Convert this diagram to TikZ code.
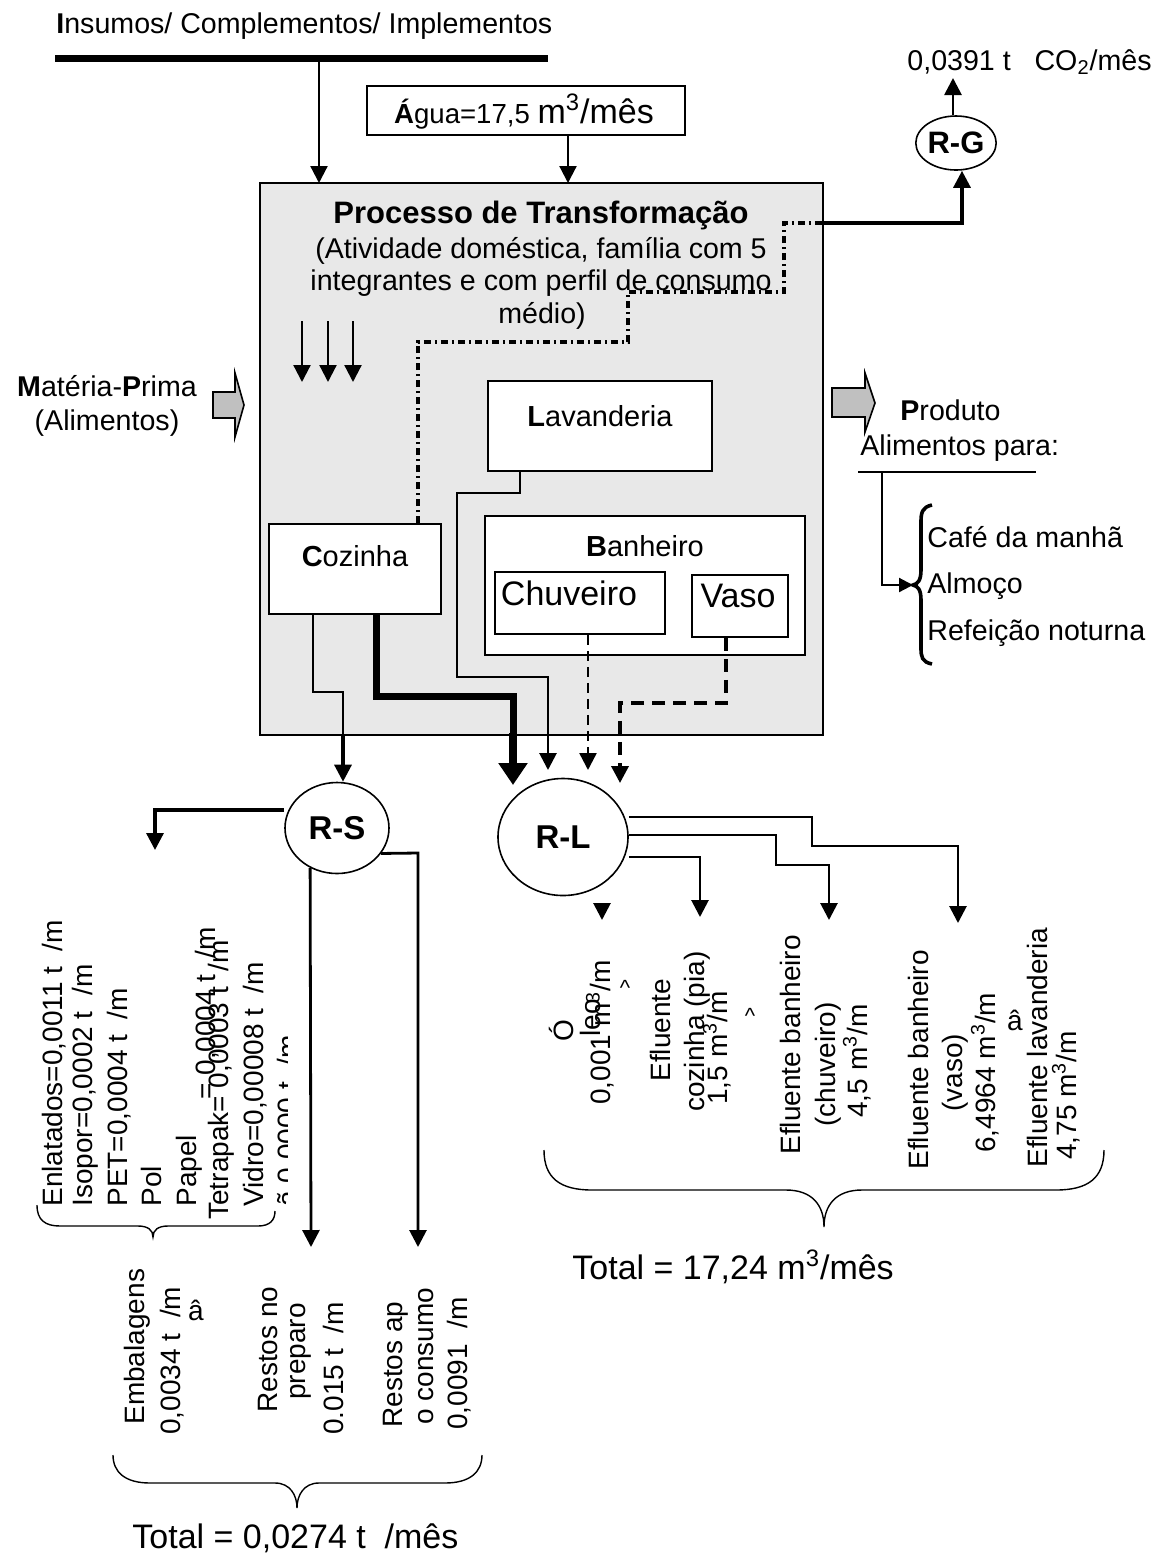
\documentclass[tikz,border=0pt]{standalone}
\usepackage{fontspec}
\setmainfont{Liberation Sans}
\usetikzlibrary{arrows.meta,shapes.geometric}
\newcommand\fsz[1]{\fontsize{#1pt}{#1pt}\selectfont}
\definecolor{procfill}{HTML}{E8E8E8}
\definecolor{arrfill}{HTML}{C0C0C0}
\begin{document}
\begin{tikzpicture}[x=0.5pt,y=-0.5pt,
  tx/.style={inner sep=0pt,anchor=base,font=\fsz{14.3}},
  txw/.style={inner sep=0pt,anchor=base west,font=\fsz{14.3}},
  rt/.style={inner sep=0pt,rotate=90,anchor=base west,font=\fsz{14}},
  bx/.style={draw,line width=0.8pt,fill=white,inner sep=0pt},
  lab/.style={inner sep=0pt,font=\fsz{14.5}},
  arw/.style={-{Triangle[width=8.5pt,length=8.5pt]}},
  lnA/.style={line width=1.1pt},
  lnB/.style={line width=1.4pt},
  ddot/.style={line width=1.6pt,dash pattern=on 3.5pt off 2pt on 1pt off 2pt},
  dshA/.style={line width=1.2pt,dash pattern=on 5pt off 3pt},
  dshB/.style={line width=1.8pt,dash pattern=on 6.5pt off 4pt},
  brc/.style={line width=0.7pt},
  garrow/.style={draw,line width=0.8pt,fill=arrfill},
  line join=miter]
\useasboundingbox (0,0) rectangle (1155,1555);

% ---------- top inputs
\node[txw] (ins) at (56,33) {\textbf{I}nsumos/ Complementos/ Implementos};
\coordinate (insL) at (55,58);
\coordinate (insR) at (548,58);
\draw[line width=3.5pt] (insL) -- (insR);

\node[draw,line width=0.8pt,fill=procfill,minimum width=281.5pt,minimum height=276pt,inner sep=0pt] (proc) at (541.5,459) {};

\coordinate (inT) at (319,183);
\draw[lnA,arw] (insL -| inT) -- (inT);

\node[bx,minimum width=159pt,minimum height=24.5pt] (agua) at (526,110.5) {};
\node[inner sep=0pt,anchor=base] (aguat) at (524,123) {\fsz{13.8}\textbf{Á}gua=17,5 {\fsz{17}m\textsuperscript{3}/mês}};
\coordinate (agT) at (568,183);
\draw[lnA,arw] (agua.south -| agT) -- (agT);

% ---------- process texts
\node[inner sep=0pt,anchor=base,font=\fsz{15.5}\bfseries] (ttl) at (541,223) {Processo de Transformação};
\node[tx] (sub1) at (541,258) {(Atividade doméstica, família com 5};
\node[tx] (sub2) at (541,290) {integrantes e com perfil de consumo};
\node[tx] (sub3) at (542,323) {médio)};

% three small arrows
\coordinate (a1s) at (302,321); \coordinate (a1e) at (302,382);
\coordinate (a2s) at (328,321); \coordinate (a2e) at (328,382);
\coordinate (a3s) at (353,321); \coordinate (a3e) at (353,382);
\draw[lnA,arw] (a1s) -- (a1e);
\draw[lnA,arw] (a2s) -- (a2e);
\draw[lnA,arw] (a3s) -- (a3e);

% ---------- inner boxes
\node[bx,minimum width=112pt,minimum height=45pt] (lav) at (600,426) {};
\node[lab] (lavt) at (600,416) {\textbf{L}avanderia};
\node[bx,minimum width=86pt,minimum height=45pt] (coz) at (355,569) {};
\node[lab] (cozt) at (355,556) {\textbf{C}ozinha};
\node[bx,minimum width=160pt,minimum height=69.5pt] (ban) at (645,585.5) {};
\node[lab] (bant) at (645,546) {\textbf{B}anheiro};
\node[bx,minimum width=85pt,minimum height=31pt] (chu) at (580,603) {};
\node[inner sep=0pt,font=\fsz{17}] (chut) at (569,593) {Chuveiro};
\node[bx,minimum width=48pt,minimum height=31pt] (vaso) at (740,606) {};
\node[inner sep=0pt,font=\fsz{17}] (vasot) at (738,596) {Vaso};

% ---------- residue nodes
\node[draw,ellipse,line width=0.8pt,fill=white,minimum width=52pt,minimum height=45.5pt,inner sep=0pt,font=\fsz{16.5}\bfseries] (RS) at (337,828) {R-S};
\node[draw,ellipse,line width=0.8pt,fill=white,minimum width=65pt,minimum height=58.5pt,inner sep=0pt,font=\fsz{16.5}\bfseries] (RL) at (563,837) {R-L};
\node[draw,ellipse,line width=0.8pt,fill=white,minimum width=40pt,minimum height=27pt,inner sep=0pt,font=\fsz{15.5}\bfseries] (RG) at (956,143) {R-G};

% ---------- gas path (dash-dot then solid)
\coordinate (d1) at (418,342);
\coordinate (d2) at (628,342);
\coordinate (d3) at (628,292);
\coordinate (d4) at (784,292);
\coordinate (d5) at (784,223);
\coordinate (rgy) at (962,223);
\draw[ddot] (coz.north -| d1) -- (d1) -- (d2) -- (d3) -- (d4) -- (d5) -- (proc.east |- d5);
\draw[line width=1.6pt,arw] (proc.east |- rgy) -- (rgy) -- (rgy |- RG.south);
\coordinate (co2a) at (953,78);
\draw[lnB,arw] (RG.north -| co2a) -- (co2a);
\node[inner sep=0pt,anchor=base west,font=\fsz{14.3}] (co2) at (907,70) {0,0391 t\ \ \ CO\textsubscript{2}/mês};

% ---------- liquid / solid flows inside the process
\coordinate (l1) at (520,493);
\coordinate (l2) at (457,493);
\coordinate (l3) at (457,677);
\coordinate (l4) at (548,677);
\coordinate (l5) at (548,770);
\draw[lnB,arw] (lav.south -| l1) -- (l1) -- (l2) -- (l3) -- (l4) -- (l5);

\coordinate (c1) at (313,692);
\coordinate (c2) at (343,692);
\coordinate (c3) at (343,735);
\draw[line width=0.7pt] (coz.south -| c1) -- (c1) -- (c2) -- (c3);
\draw[line width=1.6pt,arw] (c3) -- (RS.north -| c3);

\coordinate (k1) at (376,696);
\coordinate (k2) at (513,696);
\coordinate (k3) at (513,735);
\coordinate (k4) at (513,785);
\draw[line width=3.5pt] (coz.south -| k1) -- (k1) -- (k2) -- (k3);
\draw[line width=4pt,-{Triangle[width=14pt,length=11pt]}] ([yshift=1pt]k3) -- (k4);

\coordinate (h1) at (588,770);
\draw[dshA,arw] (chu.south -| h1) -- (h1);

\coordinate (v1) at (726,703);
\coordinate (v2) at (620,703);
\coordinate (v3) at (620,783);
\draw[dshB,arw] (vaso.south -| v1) -- (v1) -- (v2) -- (v3);

% ---------- R-S outputs
\coordinate (s1) at (155,810);
\coordinate (s1e) at (155,850);
\draw[line width=1.6pt,arw] (RS.west |- s1) -- (s1) -- (s1e);
\coordinate (s2) at (418,853);
\coordinate (s2e) at (418,1247);
\draw[lnB,arw] (RS.-30) -- (s2) -- (s2e);
\coordinate (s3e) at (311,1247);
\draw[lnB,arw] (RS.-124) -- (s3e);

% ---------- R-L outputs
\coordinate (r1a) at (812,817);
\coordinate (r1b) at (812,846);
\coordinate (r1c) at (958,846);
\coordinate (r1e) at (958,923);
\draw[lnB,arw] (RL.east |- r1a) -- (r1a) -- (r1b) -- (r1c) -- (r1e);
\coordinate (r2a) at (776,835);
\coordinate (r2b) at (776,865);
\coordinate (r2c) at (829,865);
\coordinate (r2e) at (829,920);
\draw[lnB,arw] (RL.east |- r2a) -- (r2a) -- (r2b) -- (r2c) -- (r2e);
\coordinate (r3a) at (700,857);
\coordinate (r3e) at (700,917);
\draw[lnB,arw] (RL.east |- r3a) -- (r3a) -- (r3e);
\coordinate (r4s) at (602,903);
\coordinate (r4e) at (602,920);
\draw[lnB,arw] (r4s) -- (r4e);

% ---------- raw material / product
\node[inner sep=0pt,anchor=base,font=\fsz{14.3}] (mp) at (107,396) {\textbf{M}atéria-\textbf{P}rima};
\node[inner sep=0pt,anchor=base,font=\fsz{14.3}] (mp2) at (107,430) {(Alimentos)};
\draw[garrow] (213,392) -- (235,392) -- (235,373) -- (244,405) -- (235,437) -- (235,418) -- (213,418) -- cycle;
\draw[garrow] (832,388) -- (865,388) -- (865,373) -- (875,403) -- (865,432) -- (865,417) -- (832,417) -- cycle;

\node[txw] (prod) at (900,420) {\textbf{P}roduto};
\node[txw] (prod2) at (860,455) {Alimentos para:};
\coordinate (u1) at (858,472);
\coordinate (u2) at (1036,472);
\draw[line width=0.7pt] (u1) -- (u2);
\coordinate (pv) at (882,585);
\coordinate (pt) at (913,585);
\draw[lnA,-{Triangle[width=7pt,length=7pt]}] (u1 -| pv) -- (pv) -- (pt);
\draw[line width=1.8pt] (932,505) .. controls (922,507) and (921,513) .. (921,522) -- (921,570)
  .. controls (921,580) and (918,584) .. (913,585)
  .. controls (918,586) and (921,590) .. (921,600) -- (921,648)
  .. controls (921,657) and (922,662) .. (932,664);
\node[txw] (f1) at (927,547) {Café da manhã};
\node[txw] (f2) at (927,593) {Almoço};
\node[txw] (f3) at (927,640) {Refeição noturna};

% ---------- rotated labels, left group
\node[rt] (e1) at (62,1207) {Enlatados=0,0011 t\ \ /m};
\node[rt] (e2) at (92,1207) {Isopor=0,0002 t\ \ /m};
\node[rt] (e3) at (127,1207) {PET=0,0004 t\ \ /m};
\node[rt] (e4) at (161,1207) {Pol};
\node[rt] (e5) at (196,1207) {Papel};
\node[rt] (e5b) at (215,1100) {= 0,0004 t\ \ /m};
\node[rt] (e6) at (228,1220) {Tetrapak= 0,0003 t\ \ /m};
\node[rt] (e7) at (263,1207) {Vidro=0,00008 t\ \ /m};
\begin{scope}
  \clip (30,900) rectangle (287,1215);
  \node[rt] (e8) at (297,1207) {ã 0,0000 t\ \ /m};
\end{scope}
\draw[brc] (37,1205) .. controls (37,1220) and (45,1226) .. (60,1226) -- (138,1226)
  .. controls (148,1226) and (153,1230) .. (153,1237)
  .. controls (153,1230) and (158,1226) .. (168,1226) -- (258,1226)
  .. controls (270,1226) and (275,1220) .. (275,1211);

% ---------- rotated labels, R-S bottom group
\node[rt] (b1) at (144,1425) {Embalagens};
\node[rt] (b2) at (180,1435) {0,0034 t\ \ /m};
\node[inner sep=0pt,font=\fsz{14}] (b2a) at (196,1310) {â};
\node[rt] (b3) at (277,1413) {Restos no};
\node[rt] (b4) at (305,1400) {preparo};
\node[rt] (b5) at (343,1435) {0.015 t\ \ /m};
\node[rt] (b6) at (402,1428) {Restos ap};
\node[rt] (b7) at (433,1425) {o consumo};
\node[rt] (b8) at (467,1430) {0,0091\ \ /m};
\draw[brc] (113,1455) .. controls (113,1472) and (125,1483) .. (150,1483) -- (275,1483)
  .. controls (290,1483) and (297,1495) .. (297,1508)
  .. controls (297,1495) and (304,1483) .. (319,1483) -- (445,1483)
  .. controls (470,1483) and (482,1472) .. (482,1455);
\node[inner sep=0pt,anchor=base west,font=\fsz{17}] (totS) at (132,1548) {Total = 0,0274 t\ \ /mês};

% ---------- rotated labels, R-L group
\node[rt] (o1) at (573,1042) {Ó};
\node[rt] (o2) at (600,1037) {leo};
\node[rt] (o3) at (610,1105) {0,001 m\textsuperscript{3}/m};
\node[inner sep=0pt,font=\fsz{11}] (o4) at (625,988) {\textasciicircum};
\node[rt] (p1) at (670,1082) {Efluente};
\node[rt] (p2) at (704,1112) {cozinha (pia)};
\node[rt] (p3) at (727,1105) {1,5 m\textsuperscript{3}/m};
\node[inner sep=0pt,font=\fsz{11}] (p4) at (750,1016) {\textasciicircum};
\node[rt] (q1) at (800,1155) {Efluente banheiro};
\node[rt] (q2) at (835,1127) {(chuveiro)};
\node[rt] (q3) at (867,1118) {4,5 m\textsuperscript{3}/m};
\node[rt] (w1) at (928,1170) {Efluente banheiro};
\node[rt] (w2) at (962,1112) {(vaso)};
\node[rt] (w3) at (995,1153) {6,4964 m\textsuperscript{3}/m};
\node[inner sep=0pt,font=\fsz{14}] (w4) at (1015,1020) {â};
\node[rt] (z1) at (1047,1168) {Efluente lavanderia};
\node[rt] (z2) at (1076,1160) {4,75 m\textsuperscript{3}/m};
\draw[brc] (544,1150) .. controls (544,1178) and (560,1190) .. (592,1190) -- (786,1190)
  .. controls (812,1190) and (824,1205) .. (824,1227)
  .. controls (824,1205) and (836,1190) .. (862,1190) -- (1056,1190)
  .. controls (1088,1190) and (1104,1178) .. (1104,1150);
\node[inner sep=0pt,anchor=base west,font=\fsz{17}] (totL) at (572,1279) {Total = 17,24 m\textsuperscript{3}/mês};
\end{tikzpicture}
\end{document}
